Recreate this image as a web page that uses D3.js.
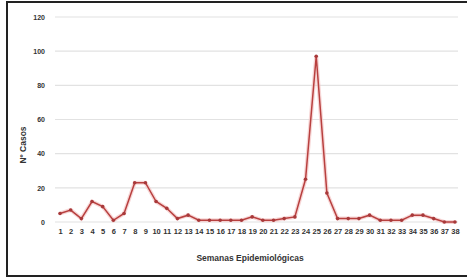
<!DOCTYPE html>
<html>
<head>
<meta charset="utf-8">
<script src="https://cdn.jsdelivr.net/npm/d3@7"></script>
<style>
  body { margin: 0; background: #fff; }
  svg text { font-family: 'Liberation Sans Narrow', 'Arial Narrow', 'Liberation Sans', sans-serif; font-weight: bold; fill: #333; }
</style>
</head>
<body>
<div id="chart"></div>
<script>
const semanas = d3.range(1, 39)
const casos = [5, 7, 2, 12, 9, 1, 5, 23, 23, 12, 8, 2, 4, 1, 1, 1, 1, 1, 3, 1,
  1, 2, 3, 25, 97, 17, 2, 2, 2, 4, 1, 1, 1, 4, 4, 2, 0, 0]
const yTicks = [0, 20, 40, 60, 80, 100, 120]

const W = 467, H = 279
const margin = { top: 17, right: 10, bottom: 57, left: 55 }
const width = 458 - margin.left
const height = 222 - margin.top

const svg = d3.select('#chart').append('svg')
  .attr('width', W).attr('height', H)

// outer frame
svg.append('rect')
  .attr('x', 7).attr('y', 2)
  .attr('width', W + 5).attr('height', 274)
  .attr('fill', 'none').attr('stroke', '#222').attr('stroke-width', 2)

const g = svg.append('g').attr('transform', `translate(${margin.left},${margin.top})`)

const x = d3.scalePoint().domain(semanas).range([5, width - 3])
const y = d3.scaleLinear().domain([0, 120]).range([height, 0])

// grid
g.selectAll('.grid').data(yTicks).enter().append('line')
  .attr('x1', 0).attr('x2', width)
  .attr('y1', (d) => y(d)).attr('y2', (d) => y(d))
  .attr('stroke', '#e2e2e2').attr('stroke-width', 1.2)

const yAxis = g.append('g').call(d3.axisLeft(y).tickValues(yTicks).tickSize(0).tickPadding(10))
yAxis.select('.domain').remove()
yAxis.selectAll('text').attr('font-size', 7).attr('fill', '#333')

const xAxis = g.append('g').attr('transform', `translate(0,${height})`)
  .call(d3.axisBottom(x).tickSize(0).tickPadding(7))
xAxis.select('.domain').remove()
xAxis.selectAll('text').attr('font-size', 7.5).attr('fill', '#333')

const pts = semanas.map((s, i) => [s, casos[i]])
const line = d3.line().x((d) => x(d[0])).y((d) => y(d[1]))

// soft halo
g.append('path').datum(pts).attr('d', line)
  .attr('fill', 'none').attr('stroke', '#f3c4c4').attr('stroke-width', 4).attr('opacity', 0.7)
g.append('path').datum(pts).attr('d', line)
  .attr('fill', 'none').attr('stroke', '#b8403f').attr('stroke-width', 1.5)

g.selectAll('.dot').data(pts).enter().append('circle')
  .attr('cx', (d) => x(d[0])).attr('cy', (d) => y(d[1]))
  .attr('r', 1.8).attr('fill', '#a8393a')

svg.append('text')
  .attr('transform', 'translate(26,145) rotate(-90)')
  .attr('text-anchor', 'middle').attr('font-size', 8.5)
  .text('Nº Casos')

svg.append('text')
  .attr('x', 250).attr('y', 261)
  .attr('text-anchor', 'middle').attr('font-size', 8.5)
  .text('Semanas Epidemiológicas')
</script>
</body>
</html>
